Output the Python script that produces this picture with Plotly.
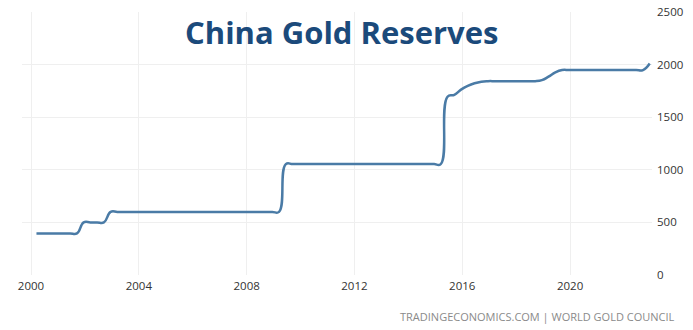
import plotly.graph_objects as go

# Quarterly observations (mid-month of Mar/Jun/Sep/Dec), tonnes of gold
years = list(range(2000, 2023))
quarter_months = [3, 6, 9, 12]
dates = [f"{y}-{m:02d}-15" for y in years for m in quarter_months]

reserves = [
    395, 395, 395, 395,          # 2000
    395, 395, 395, 500,          # 2001
    500, 500, 500, 600,          # 2002
    600, 600, 600, 600,          # 2003
    600, 600, 600, 600,          # 2004
    600, 600, 600, 600,          # 2005
    600, 600, 600, 600,          # 2006
    600, 600, 600, 600,          # 2007
    600, 600, 600, 600,          # 2008
    600, 1054, 1054, 1054,       # 2009
    1054, 1054, 1054, 1054,      # 2010
    1054, 1054, 1054, 1054,      # 2011
    1054, 1054, 1054, 1054,      # 2012
    1054, 1054, 1054, 1054,      # 2013
    1054, 1054, 1054, 1054,      # 2014
    1054, 1695, 1712, 1762,      # 2015
    1798, 1823, 1838, 1842.6,    # 2016
    1842.6, 1842.6, 1842.6, 1842.6,  # 2017
    1842.6, 1842.6, 1842.6, 1852.5,  # 2018
    1885, 1926, 1948.3, 1948.3,  # 2019
    1948.3, 1948.3, 1948.3, 1948.3,  # 2020
    1948.3, 1948.3, 1948.3, 1948.3,  # 2021
    1948.3, 1948.3, 1948.3, 2010,    # 2022
]

x_ticks = ["2000-01-01", "2004-01-01", "2008-01-01", "2012-01-01", "2016-01-01", "2020-01-01"]
x_tick_labels = ["2000", "2004", "2008", "2012", "2016", "2020"]
y_ticks = [0, 500, 1000, 1500, 2000, 2500]

title_text = "China Gold Reserves"
source_text = "TRADINGECONOMICS.COM | WORLD GOLD COUNCIL"

W, H = 693, 330
L, R, T, B = 22, 41, 12, 55
plot_w, plot_h = W - L - R, H - T - B

fig = go.Figure()
fig.add_trace(go.Scatter(
    x=dates,
    y=reserves,
    mode="lines",
    line=dict(color="#4a7ba6", width=2.5, shape="spline", smoothing=1.3),
    hoverinfo="x+y",
    showlegend=False,
))

grid = "#efefef"
fig.update_layout(
    width=W,
    height=H,
    margin=dict(l=L, r=R, t=T, b=B, autoexpand=False),
    paper_bgcolor="white",
    plot_bgcolor="white",
    font=dict(family="Open Sans", size=12, color="#333333"),
    xaxis=dict(
        type="date",
        range=["1999-09-01", "2023-01-15"],
        tickvals=x_ticks,
        ticktext=x_tick_labels,
        showgrid=True,
        gridcolor=grid,
        gridwidth=1,
        zeroline=False,
        showline=False,
        ticks="",
        automargin=False,
        ticklabelstandoff=2,
        tickfont=dict(size=11.5, color="#333333"),
    ),
    yaxis=dict(
        side="right",
        range=[0, 2500],
        tickvals=y_ticks,
        showgrid=True,
        gridcolor=grid,
        gridwidth=1,
        zeroline=False,
        showline=False,
        ticks="",
        automargin=False,
        ticklabelstandoff=4,
        tickfont=dict(size=11.5, color="#333333"),
    ),
    annotations=[
        dict(
            text=f"<b>{title_text}</b>",
            xref="paper", yref="paper",
            x=(341 - L) / plot_w, y=(H - B - 32) / plot_h,
            xanchor="center", yanchor="middle",
            showarrow=False,
            font=dict(family="Open Sans", size=31, color="#1b4a7b"),
        ),
        dict(
            text=source_text,
            xref="paper", yref="paper",
            x=(677 - L) / plot_w, y=-(316 - (H - B)) / plot_h,
            xanchor="right", yanchor="middle",
            showarrow=False,
            font=dict(family="Open Sans", size=11, color="#8a8a8a"),
        ),
    ],
)

fig.write_html("out.html")
